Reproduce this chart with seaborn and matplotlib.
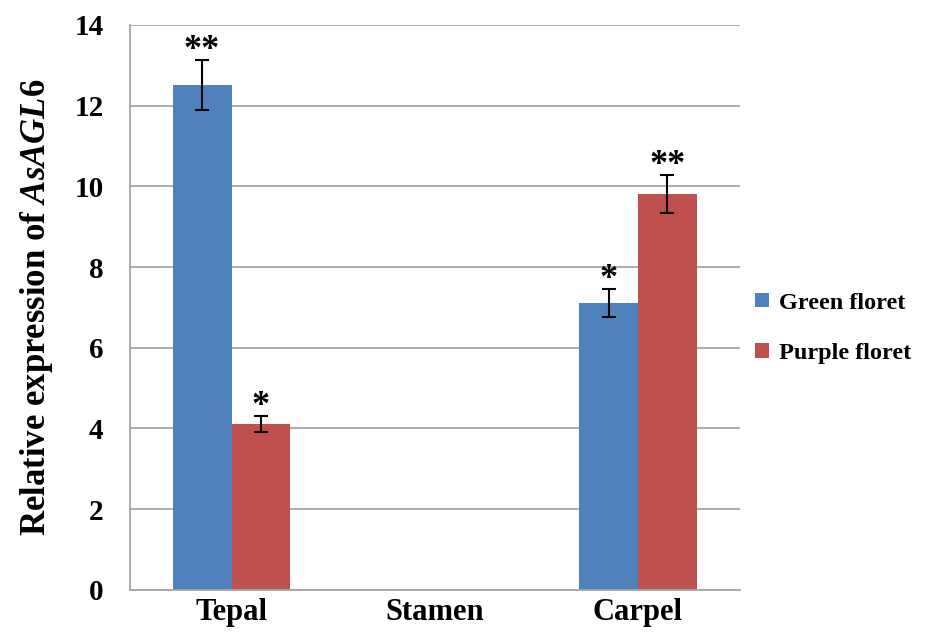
import numpy as np
import pandas as pd
import seaborn as sns
import matplotlib.pyplot as plt

# values
tissues = ['Tepal', 'Stamen', 'Carpel']
green_vals = [12.5, 0.0, 7.1]
purple_vals = [4.1, 0.0, 9.8]
green_err = [0.62, 0.0, 0.35]
purple_err = [0.2, 0.0, 0.47]
green_marks = ['**', '', '*']
purple_marks = ['*', '', '**']
series = ['Green floret', 'Purple floret']

df = pd.DataFrame({
    'tissue': tissues * 2,
    'value': green_vals + purple_vals,
    'group': [series[0]] * 3 + [series[1]] * 3,
})

sns.set_style('white')
plt.rcParams['font.family'] = ['Liberation Serif', 'DejaVu Serif']
plt.rcParams['font.weight'] = 'bold'
plt.rcParams['text.color'] = 'black'
plt.rcParams['axes.labelcolor'] = 'black'
plt.rcParams['xtick.labelcolor'] = 'black'
plt.rcParams['ytick.labelcolor'] = 'black'
plt.rcParams['mathtext.fontset'] = 'custom'
plt.rcParams['mathtext.it'] = 'Liberation Serif:italic:bold'
plt.rcParams['mathtext.rm'] = 'Liberation Serif:bold'

fig = plt.figure(figsize=(9.28, 6.39), dpi=100)
ax = fig.add_axes([0.140, 0.077, 0.657, 0.884])

palette = {'Green floret': '#4F81BD', 'Purple floret': '#C0504D'}
sns.barplot(data=df, x='tissue', y='value', hue='group', palette=palette,
            width=0.58, gap=0, saturation=1, linewidth=0, ax=ax, legend=True)

# error bars and significance marks
errs = [green_err, purple_err]
marks = [green_marks, purple_marks]
for cont, e, m in zip(ax.containers, errs, marks):
    for bar, err, mk in zip(cont, e, m):
        cx = bar.get_x() + bar.get_width() / 2
        h = bar.get_height()
        if h <= 0:
            continue
        ax.errorbar(cx, h, yerr=err, color='black', capsize=5, lw=1.5,
                    capthick=1.5, zorder=5)
        ax.text(cx, h + err - 0.17, mk, ha='center', va='bottom',
                fontsize=26, fontweight='bold', color='black')

ax.set_ylim(0, 14)
ax.set_xlim(-0.5, 2.5)
ax.set_yticks(np.arange(0, 15, 2))
ax.yaxis.grid(True, color='#a6a6a6', lw=1.3)
ax.set_axisbelow(True)

for s in ['top', 'right']:
    ax.spines[s].set_visible(False)
for s in ['left', 'bottom']:
    ax.spines[s].set_color('#a6a6a6')
    ax.spines[s].set_linewidth(1.3)

ax.tick_params(axis='y', which='major', direction='out', length=7,
               color='#a6a6a6', width=1.3, labelsize=21, pad=12)
ax.tick_params(axis='x', which='major', length=0, labelsize=22, pad=6)
ax.set_xticks([-0.5, 0.5, 1.5, 2.5], minor=True)
ax.tick_params(axis='x', which='minor', direction='out', length=8,
               color='#a6a6a6', width=1.3)

ax.set_xlabel('')
ax.set_ylabel(r'Relative expression of $\mathit{AsAGL6}$', fontsize=25,
              fontweight='bold', labelpad=14)

ax.legend(loc='center left', bbox_to_anchor=(1.0, 0.463), frameon=False,
          fontsize=17.5, handlelength=0.55, handleheight=0.55, handletextpad=0.4,
          labelspacing=1.2, borderaxespad=0.25)

fig.savefig('out.png', dpi=100)
